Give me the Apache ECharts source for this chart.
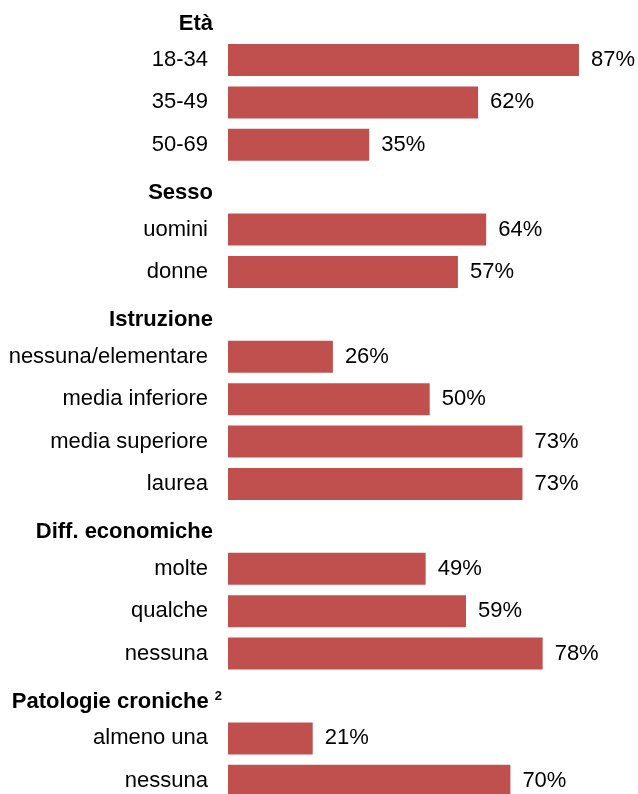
<!DOCTYPE html>
<html>
<head>
<meta charset="utf-8">
<script src="https://cdn.jsdelivr.net/npm/echarts@6/dist/echarts.min.js"></script>
<style>
html,body{margin:0;padding:0;background:#fff;}
#chart{width:638px;height:794px;}
</style>
</head>
<body>
<div id="chart"></div>
<script>
const categories = ['Età','18-34','35-49','50-69','Sesso','uomini','donne','Istruzione','nessuna/elementare','media inferiore','media superiore','laurea','Diff. economiche','molte','qualche','nessuna','Patologie croniche ²','almeno una','nessuna'];
const values = [null, 87, 62, 35, null, 64, 57, null, 26, 50, 73, 73, null, 49, 59, 78, null, 21, 70];
const groupHeaders = ['Età','Sesso','Istruzione','Diff. economiche','Patologie croniche ²'];

const FONT = '"Liberation Sans", Arial, sans-serif';
const chart = echarts.init(document.getElementById('chart'));

const headerIdx = new Set(groupHeaders.map(h => categories.indexOf(h)));

chart.setOption({
  animation: false,
  backgroundColor: '#ffffff',
  grid: { left: 228, top: -3.6, width: 403.4, height: 805.6, containLabel: false, outerBoundsMode: 'none' },
  xAxis: { type: 'value', min: 0, max: 100, show: false },
  yAxis: {
    type: 'category',
    data: categories,
    inverse: true,
    axisLine: { show: false },
    axisTick: { show: false },
    splitLine: { show: false },
    axisLabel: {
      margin: 6,
      interval: 0,
      fontFamily: FONT,
      fontSize: 22,
      color: '#000',
      formatter: function (v, i) {
        if (headerIdx.has(i)) {
          if (v.endsWith('²')) {
            return '{gap| }\n{h2|' + v.replace(/\s*²$/, ' ') + '}{sup|2}';
          }
          return '{gap| }\n{h|' + v + '}';
        }
        return '{d|' + v + '}';
      },
      rich: {
        gap: { fontSize: 4, lineHeight: 12, height: 12 },
        d: { fontFamily: FONT, fontSize: 22, color: '#000', padding: [0, 14, 0, 0] },
        h: { fontFamily: FONT, fontSize: 22, fontWeight: 'bold', color: '#000', lineHeight: 24, padding: [0, 9, 0, 0] },
        h2: { fontFamily: FONT, fontSize: 22, fontWeight: 'bold', color: '#000', lineHeight: 24 },
        sup: { fontFamily: FONT, fontSize: 13, fontWeight: 'bold', color: '#000', lineHeight: 24, verticalAlign: 'top', padding: [0, 0, 10, 0] }
      }
    }
  },
  series: [{
    type: 'bar',
    data: values.map(v => v === null ? '-' : v),
    barWidth: 32,
    itemStyle: { color: '#C0504D' },
    label: {
      show: true,
      position: 'right',
      distance: 12,
      fontFamily: FONT,
      fontSize: 22,
      color: '#000',
      formatter: p => p.value + '%'
    }
  }]
});
</script>
</body>
</html>
